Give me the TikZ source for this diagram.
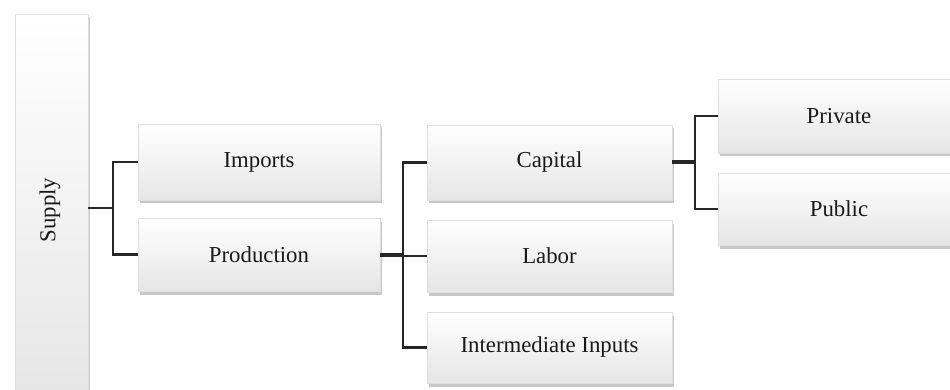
\documentclass[tikz,border=0pt]{standalone}
\usepackage{fontspec}
\setmainfont{Liberation Serif}
\usetikzlibrary{shadows}
\begin{document}
\begin{tikzpicture}[x=1pt,y=-1pt,
  box/.style={rectangle, draw=gray!25, line width=0.6pt, top color=white, bottom color=gray!20,
    drop shadow={shadow xshift=1.5pt, shadow yshift=-3.5pt, opacity=0.5, fill=gray!85},
    font=\fontsize{22.8}{27}\selectfont, text=black!90, inner sep=0pt},
  thin/.style={line width=2.2pt, black!85},
  thick/.style={line width=4pt, black!85}]
\useasboundingbox (0,0) rectangle (950,390);
\fill[white] (0,0) rectangle (950,390);
% Supply
\node[box, minimum width=73pt, minimum height=388pt] (supply) at (51.5,208) {};
\node[font=\fontsize{22.8}{27}\selectfont, text=black!90, rotate=90] (supplytxt) at (50,210) {Supply};
% level 1
\node[box, minimum width=242pt, minimum height=76pt] (imports) at (259,162) {Imports};
\node[box, minimum width=242pt, minimum height=73pt] (production) at (259,254.5) {Production};
% level 2
\node[box, minimum width=245pt, minimum height=75pt] (capital) at (549.5,162.5) {Capital};
\node[box, minimum width=245pt, minimum height=72pt] (labor) at (549.5,256) {Labor};
\node[box, minimum width=245pt, minimum height=71pt] (inter) at (549.5,347.5) {Intermediate Inputs};
% level 3
\node[box, minimum width=242pt, minimum height=74pt] (private) at (839,116) {Private};
\node[box, minimum width=242pt, minimum height=72pt] (public) at (839,209) {Public};
% connectors
\coordinate (j1) at (113,208);
\coordinate (j2) at (403,254.5);
\coordinate (j3) at (695,162.5);
\draw[thin] (supply.east) -- (j1);
\draw[thin] (j1) |- (imports.west);
\draw[thin] (j1) |- (production.west);
\draw[thick] (production.east) -- (j2);
\draw[thin] (j2) |- (capital.west);
\draw[thin] (j2) |- (labor.west);
\draw[thin] (j2) |- (inter.west);
\draw[thick] (capital.east) -- (j3);
\draw[thin] (j3) |- (private.west);
\draw[thin] (j3) |- (public.west);
\end{tikzpicture}
\end{document}
